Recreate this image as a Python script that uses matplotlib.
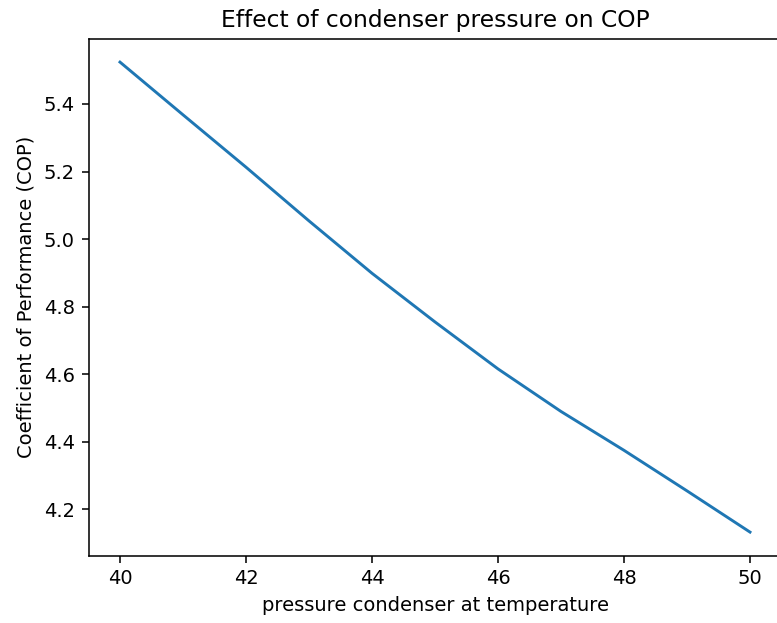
import numpy as np
import matplotlib
matplotlib.use("Agg")
import matplotlib.pyplot as plt

# condenser temperature vs COP
temp_cond = [40, 41, 42, 43, 44, 45, 46, 47, 48, 49, 50]
cop = [5.524, 5.368, 5.213, 5.054, 4.899, 4.755, 4.616, 4.490, 4.375, 4.255, 4.133]

W, H, dpi = 777, 623, 140
fig = plt.figure(figsize=(W / dpi, H / dpi), dpi=dpi)
ax = fig.add_axes([88.5 / W, (H - 555.6) / H, 693 / W, 517 / H])

ax.plot(temp_cond, cop, color='#1f77b4', linewidth=1.5)
ax.set_xticks(np.arange(40, 51, 2))
ax.set_yticks([4.2, 4.4, 4.6, 4.8, 5.0, 5.2, 5.4])
ax.set_xlabel('pressure condenser at temperature')
ax.set_ylabel('Coefficient of Performance (COP)')
ax.set_title('Effect of condenser pressure on COP')
# the reference is cropped just before the right spine
ax.spines['right'].set_visible(False)

fig.savefig('out.png', dpi=dpi)
